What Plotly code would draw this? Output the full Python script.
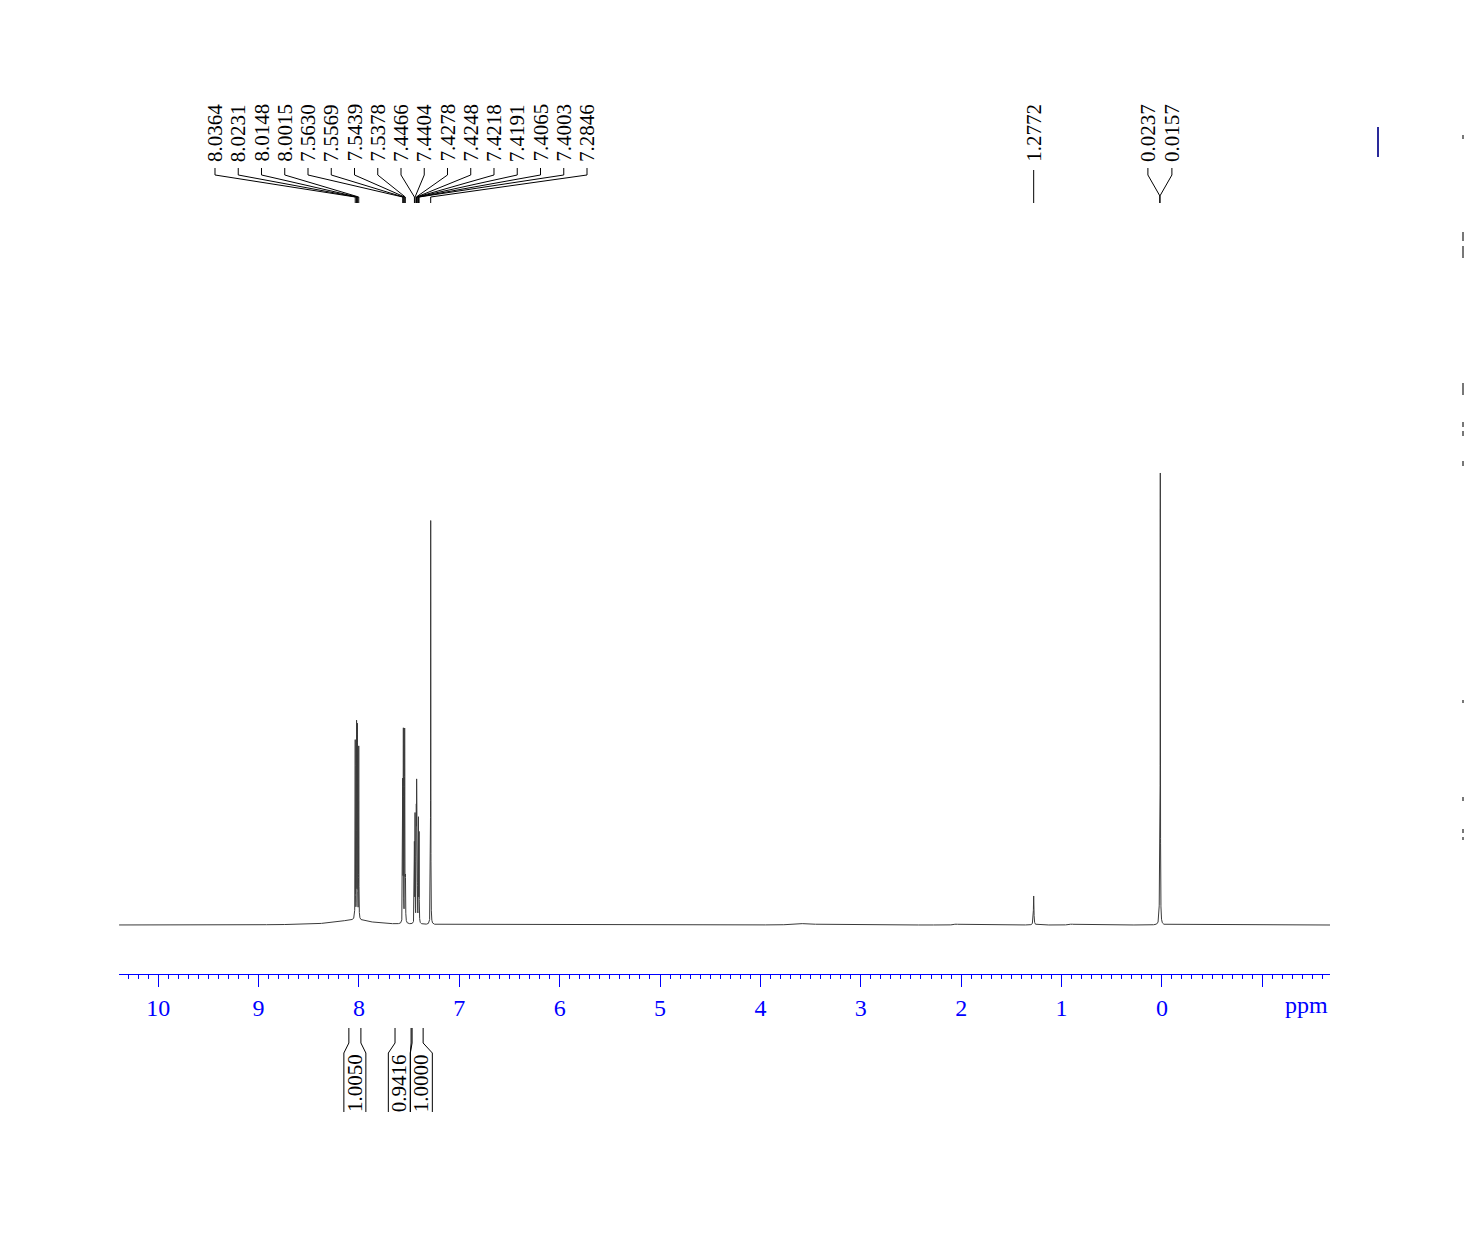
import numpy as np
import plotly.graph_objects as go

# ---------------- data ----------------
peak_ppm = [8.0364, 8.0231, 8.0148, 8.0015,
            7.5630, 7.5569, 7.5439, 7.5378,
            7.4466, 7.4404, 7.4278, 7.4248, 7.4218, 7.4191, 7.4065, 7.4003,
            7.2846, 1.2772, 0.0237, 0.0157]
peak_height = [178, 194, 191, 172,
               163, 188, 188, 158,
               92, 106, 97, 112, 106, 92, 102, 88,
               404, 29, 20, 448]
peak_hwhm = [0.0012] * 16 + [0.0012, 0.003, 0.004, 0.0013]

broad_ppm = [8.05, 3.55, 2.05, 0.90]
broad_height = [5.0, 1.5, 1.0, 1.0]
broad_hwhm = [0.22, 0.10, 0.02, 0.02]

label_group_main = ["8.0364", "8.0231", "8.0148", "8.0015", "7.5630", "7.5569",
                    "7.5439", "7.5378", "7.4466", "7.4404", "7.4278", "7.4248",
                    "7.4218", "7.4191", "7.4065", "7.4003", "7.2846"]
label_group_single = ["1.2772"]
label_group_pair = ["0.0237", "0.0157"]

integral_from = [8.10, 7.64, 7.47]
integral_to = [7.98, 7.48, 7.36]
integral_values = ["1.0050", "0.9416", "1.0000"]

tick_values = list(range(-1, 11))
tick_text = ["" if v == -1 else str(v) for v in tick_values]

# ---------------- geometry ----------------
W, H = 1464, 1241
X_LEFT, X_RIGHT = 10.39, -1.675
PLOT_L, PLOT_R = 119, 1330
AXIS_Y = 974
BASE_Y = 925
BLUE = "#0000ff"
FONT = "Liberation Serif"
LABEL_SIZE = 21


def px_of(ppm):
    return PLOT_L + (X_LEFT - ppm) / (X_LEFT - X_RIGHT) * (PLOT_R - PLOT_L)


def paper_x(px):
    return (px - PLOT_L) / (PLOT_R - PLOT_L)


def paper_y(py):
    return (AXIS_Y - py) / AXIS_Y


def path(points):
    return "M " + " L ".join(f"{paper_x(a):.5f},{paper_y(b):.5f}" for a, b in points)


# ---------------- spectrum from the peak table ----------------
grid = [np.arange(X_RIGHT, X_LEFT, 0.002)]
for p in peak_ppm:
    grid.append(np.arange(p - 0.05, p + 0.05, 0.0002))
x = np.unique(np.round(np.concatenate(grid), 5))
y = np.zeros_like(x)
for p, h, w in zip(peak_ppm + broad_ppm, peak_height + broad_height, peak_hwhm + broad_hwhm):
    y += h / (1 + ((x - p) / w) ** 2)

fig = go.Figure()
fig.add_trace(go.Scatter(x=x, y=y, mode="lines",
                         line=dict(color="#3a3a3a", width=1),
                         hoverinfo="skip", showlegend=False))

shapes = []
annotations = []
line_style = dict(color="black", width=1)
label_font = dict(family=FONT, size=LABEL_SIZE, color="black")

# main multiplet labels
for i, lab in enumerate(label_group_main):
    lx = 215 + 23.25 * i
    pk = px_of(float(lab))
    annotations.append(dict(x=paper_x(lx), y=paper_y(102), xref="paper", yref="paper",
                            text=lab, textangle=-90, showarrow=False,
                            xanchor="center", yanchor="top", font=label_font))
    shapes.append(dict(type="path", xref="paper", yref="paper", line=line_style,
                       path=path([(lx, 168), (lx, 175), (pk, 197), (pk, 203)])))

# single label
for lab in label_group_single:
    pk = px_of(float(lab))
    annotations.append(dict(x=paper_x(pk), y=paper_y(102), xref="paper", yref="paper",
                            text=lab, textangle=-90, showarrow=False,
                            xanchor="center", yanchor="top", font=label_font))
    shapes.append(dict(type="path", xref="paper", yref="paper", line=line_style,
                       path=path([(pk, 170), (pk, 203)])))

# pair label
pc = np.mean([px_of(float(l)) for l in label_group_pair])
for j, lab in enumerate(label_group_pair):
    lx = pc - 12 + 24 * j
    annotations.append(dict(x=paper_x(lx), y=paper_y(102), xref="paper", yref="paper",
                            text=lab, textangle=-90, showarrow=False,
                            xanchor="center", yanchor="top", font=label_font))
    shapes.append(dict(type="path", xref="paper", yref="paper", line=line_style,
                       path=path([(lx, 168), (lx, 175), (pc, 196), (pc, 203)])))

# integrals
centers = [(px_of(a) + px_of(b)) / 2 for a, b in zip(integral_from, integral_to)]
HALF = 11
for i in range(1, len(centers)):
    if centers[i] - centers[i - 1] < 2 * HALF:
        mid = (centers[i] + centers[i - 1]) / 2
        centers[i - 1] = mid - HALF
        centers[i] = mid + HALF
for a, b, c, val in zip(integral_from, integral_to, centers, integral_values):
    pa, pb = px_of(a), px_of(b)
    shapes.append(dict(type="path", xref="paper", yref="paper", line=line_style,
                       path=path([(pa, 1028), (pa, 1043), (c - HALF, 1053), (c - HALF, 1112)])))
    shapes.append(dict(type="path", xref="paper", yref="paper", line=line_style,
                       path=path([(pb, 1028), (pb, 1043), (c + HALF, 1053), (c + HALF, 1112)])))
    annotations.append(dict(x=paper_x(c), y=paper_y(1083), xref="paper", yref="paper",
                            text=val, textangle=-90, showarrow=False,
                            xanchor="center", yanchor="middle", font=label_font))

# ppm unit label
annotations.append(dict(x=1.0, y=paper_y(1005), xref="paper", yref="paper",
                        text="ppm", showarrow=False, xanchor="right", yanchor="middle",
                        font=dict(family=FONT, size=24, color=BLUE)))

# blue marker at the right and clipped marks at the window edge
shapes.append(dict(type="line", xref="paper", yref="paper",
                   x0=paper_x(1378), x1=paper_x(1378), y0=paper_y(127), y1=paper_y(157),
                   line=dict(color="#2a2a9a", width=2)))
for y0, y1 in [(135, 139), (232, 241), (246, 258), (383, 395), (422, 427), (431, 436),
               (461, 466), (700, 703), (797, 801), (829, 833), (837, 840)]:
    shapes.append(dict(type="rect", xref="paper", yref="paper",
                       x0=paper_x(1462), x1=paper_x(1464), y0=paper_y(y1), y1=paper_y(y0),
                       line=dict(width=0), fillcolor="#777777"))

fig.update_layout(
    width=W, height=H,
    margin=dict(l=PLOT_L, r=W - PLOT_R, t=0, b=H - AXIS_Y, pad=0),
    paper_bgcolor="white", plot_bgcolor="white",
    showlegend=False,
    shapes=shapes, annotations=annotations,
    xaxis=dict(range=[X_LEFT, X_RIGHT], autorange=False,
               tickmode="array", tickvals=tick_values, ticktext=tick_text,
               ticks="outside", ticklen=12, tickwidth=1, tickcolor=BLUE,
               showline=True, linecolor=BLUE, linewidth=1,
               showgrid=False, zeroline=False,
               tickfont=dict(family=FONT, size=24, color=BLUE),
               ticklabelstandoff=0,
               minor=dict(dtick=0.1, tick0=0, ticks="outside", ticklen=4,
                          tickwidth=1, tickcolor=BLUE, showgrid=False)),
    yaxis=dict(visible=False, range=[-(AXIS_Y - BASE_Y), BASE_Y], autorange=False,
               fixedrange=True),
)

fig.write_html("out.html")
